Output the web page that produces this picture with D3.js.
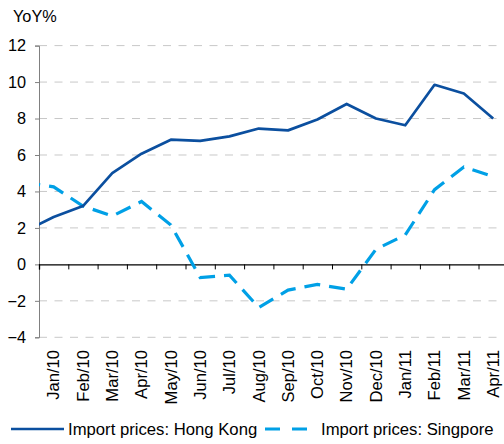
<!DOCTYPE html>
<html>
<head>
<meta charset="utf-8">
<script src="https://cdn.jsdelivr.net/npm/d3@7"></script>
<style>
  body { margin: 0; background: #fff; }
  text { font-family: "Liberation Sans", Arial, sans-serif; fill: #000; }
</style>
</head>
<body>
<div id="root"></div>
<script>
// the series start one month before the first label and get clipped at the axis
const months = ["Jan/10", "Feb/10", "Mar/10", "Apr/10", "May/10", "Jun/10", "Jul/10", "Aug/10",
	"Sep/10", "Oct/10", "Nov/10", "Dec/10", "Jan/11", "Feb/11", "Mar/11", "Apr/11"];
const hongKong = [1.8, 2.6, 3.2, 5.0, 6.07, 6.84, 6.77, 7.02, 7.45, 7.35, 7.95, 8.8, 8.0, 7.63, 9.85, 9.37, 8.0];
const singapore = [4.5, 4.25, 3.2, 2.65, 3.45, 2.16, -0.72, -0.59, -2.37, -1.41, -1.1, -1.36, 0.83, 1.61, 4.1, 5.34, 4.82];
const yTicks = [-4, -2, 0, 2, 4, 6, 8, 10, 12];
const seriesNames = ["Import prices: Hong Kong", "Import prices: Singpore"];

const W = 504, H = 444;
const left = 39, step = 29.3;

const svg = d3.select("#root").append("svg")
	.attr("width", W)
	.attr("height", H);

const x = d3.scaleLinear()
	.domain([-0.5, months.length - 0.5])
	.range([left, left + step * months.length]);

const y = d3.scaleLinear()
	.domain([-4, 12])
	.range([337.3, 45.6]);

// gridlines
svg.append("g")
	.selectAll("line")
	.data(yTicks.filter(d => d !== 0))
	.enter()
	.append("line")
		.attr("x1", left)
		.attr("x2", W)
		.attr("y1", d => y(d))
		.attr("y2", d => y(d))
		.attr("stroke", "#c8c8c8")
		.attr("stroke-width", 1)
		.attr("stroke-dasharray", "8,7.5");

// y axis
const yAxis = svg.append("g")
	.attr("transform", `translate(${left},0)`)
	.call(d3.axisLeft(y).tickValues(yTicks).tickSize(4).tickPadding(9));
yAxis.select(".domain").attr("stroke", "#808080");
yAxis.selectAll(".tick line").attr("stroke", "#808080");
yAxis.selectAll(".tick text")
	.style("font-size", "16.3px")
	.style("font-family", "Liberation Sans, Arial, sans-serif")
	.attr("fill", "#000");

svg.append("text")
	.attr("x", 13)
	.attr("y", 21.5)
	.style("font-size", "16.3px")
	.text("YoY%");

// zero line with ticks between categories
const xAxis = svg.append("g")
	.attr("transform", `translate(0,${y(0)})`)
	.call(d3.axisBottom(x)
		.tickValues(d3.range(months.length + 1).map(i => i - 0.5))
		.tickSize(5)
		.tickFormat(""));
xAxis.select(".domain").attr("stroke", "#000").attr("stroke-width", 1.3);
xAxis.selectAll(".tick line").attr("stroke", "#000");

// category labels
svg.append("g")
	.selectAll("text")
	.data(months)
	.enter()
	.append("text")
		.attr("transform", (d, i) => `translate(${x(i)},350) rotate(-90)`)
		.attr("text-anchor", "end")
		.attr("dy", "0.35em")
		.style("font-size", "16.6px")
		.text(d => d);

// lines
svg.append("clipPath")
	.attr("id", "plot")
	.append("rect")
		.attr("x", left)
		.attr("y", 0)
		.attr("width", W - left)
		.attr("height", H);

const line = d3.line()
	.x((d, i) => x(i - 1))
	.y(d => y(d));

const plot = svg.append("g").attr("clip-path", "url(#plot)");

plot.append("path")
	.datum(singapore)
	.attr("d", line)
	.attr("fill", "none")
	.attr("stroke", "#00a0e6")
	.attr("stroke-width", 3.2)
	.attr("stroke-dasharray", "16,9");

plot.append("path")
	.datum(hongKong)
	.attr("d", line)
	.attr("fill", "none")
	.attr("stroke", "#0b4f9f")
	.attr("stroke-width", 2.7)
	.attr("stroke-linejoin", "round");

// legend
const legend = svg.append("g").attr("transform", "translate(0,429)");

legend.append("line")
	.attr("x1", 11).attr("x2", 64)
	.attr("stroke", "#0b4f9f")
	.attr("stroke-width", 2.7);
legend.append("text")
	.attr("x", 68)
	.attr("dy", "0.35em")
	.style("font-size", "16.7px")
	.text(seriesNames[0]);

legend.append("line")
	.attr("x1", 265).attr("x2", 312)
	.attr("stroke", "#00a0e6")
	.attr("stroke-width", 3.2)
	.attr("stroke-dasharray", "15,12");
legend.append("text")
	.attr("x", 321)
	.attr("dy", "0.35em")
	.style("font-size", "16.7px")
	.text(seriesNames[1]);
</script>
</body>
</html>
